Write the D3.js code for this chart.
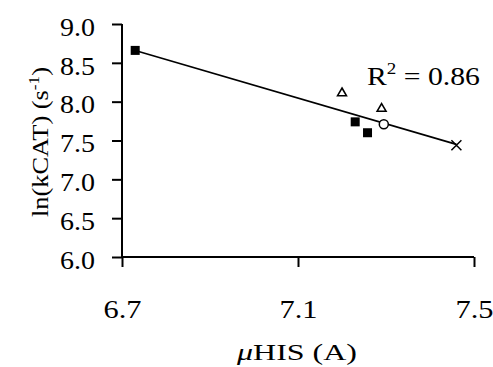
<!DOCTYPE html>
<html><head><meta charset="utf-8">
<script src="https://cdn.jsdelivr.net/npm/d3@7"></script>
<style>
body{margin:0;background:#fff;}
svg{display:block;}
text{font-family:"Liberation Serif","Times New Roman",serif;fill:#000;}
</style></head>
<body><svg id="c" width="493" height="367"></svg>
<script>
// data
const squares   = [[6.73, 8.66], [7.23, 7.74], [7.258, 7.60]];
const triangles = [[7.20, 8.11], [7.29, 7.91]];
const circles   = [[7.295, 7.71]];
const crosses   = [[7.46, 7.44]];
const trendX = [6.73, 7.46];
const trendY = [8.66, 7.45];
const xTicks = [6.7, 7.1, 7.5];
const yTicks = [6.0, 6.5, 7.0, 7.5, 8.0, 8.5, 9.0];
const r2Label = "0.86";

const svg = d3.select("#c");
const x = d3.scaleLinear().domain([6.7, 7.5]).range([122, 474]);
const y = d3.scaleLinear().domain([6.0, 9.0]).range([257, 24]);

const fs = 25;
// axes
const xAxis = svg.append("g").attr("transform", "translate(0,257)")
  .call(d3.axisBottom(x).tickValues(xTicks).tickFormat(d3.format(".1f")).tickSize(10).tickPadding(33));
const yAxis = svg.append("g").attr("transform", "translate(122,0)")
  .call(d3.axisLeft(y).tickValues(yTicks).tickFormat(d3.format(".1f")).tickSize(10).tickPadding(17));
[xAxis, yAxis].forEach(g => {
  g.attr("font-family", null).attr("font-size", null);
  g.select(".domain").attr("stroke", "#000").attr("stroke-width", 2);
  g.selectAll(".tick line").attr("stroke", "#000").attr("stroke-width", 2);
  g.selectAll(".tick text").attr("font-size", fs).attr("fill", "#000")
    .attr("lengthAdjust", "spacingAndGlyphs");
});
xAxis.selectAll(".tick text").attr("textLength", 38);
yAxis.selectAll(".tick text").attr("textLength", 35).attr("dy", "0.45em");
xAxis.select(".domain").attr("d", `M${x.range()[0]},0H${x.range()[1]}`);
yAxis.select(".domain").attr("d", `M0,${y.range()[0]}V${y.range()[1]}`);

// trend line
svg.append("line")
  .attr("x1", x(trendX[0])).attr("y1", y(trendY[0]))
  .attr("x2", x(trendX[1])).attr("y2", y(trendY[1]))
  .attr("stroke", "#000").attr("stroke-width", 1.6);

// markers
const s = 9;
svg.selectAll(".sq").data(squares).enter().append("rect")
  .attr("x", d => x(d[0]) - s/2).attr("y", d => y(d[1]) - s/2)
  .attr("width", s).attr("height", s).attr("fill", "#000");
const tri = d3.symbol().type(d3.symbolTriangle).size(34);
svg.selectAll(".tr").data(triangles).enter().append("path")
  .attr("d", tri).attr("transform", d => `translate(${x(d[0])},${y(d[1])})`)
  .attr("fill", "#fff").attr("stroke", "#000").attr("stroke-width", 1.6);
svg.selectAll(".ci").data(circles).enter().append("circle")
  .attr("cx", d => x(d[0])).attr("cy", d => y(d[1])).attr("r", 4.5)
  .attr("fill", "#fff").attr("stroke", "#000").attr("stroke-width", 1.5);
svg.selectAll(".cr").data(crosses).enter().append("path")
  .attr("d", d => { const cx = x(d[0]), cy = y(d[1]), h = 5;
    return `M${cx-h},${cy-h}L${cx+h},${cy+h}M${cx-h},${cy+h}L${cx+h},${cy-h}`; })
  .attr("stroke", "#000").attr("stroke-width", 1.5);

// R^2 label
const r2 = svg.append("text").attr("x", 367).attr("y", 85).attr("font-size", 25)
  .attr("textLength", 113).attr("lengthAdjust", "spacingAndGlyphs");
r2.append("tspan").text("R");
r2.append("tspan").attr("dy", -11).attr("font-size", 16).text("2");
r2.append("tspan").attr("dy", 11).text(" = " + r2Label);

// x title
const xt = svg.append("text").attr("x", 297).attr("y", 360).attr("text-anchor", "middle").attr("font-size", 23)
  .attr("textLength", 120).attr("lengthAdjust", "spacingAndGlyphs");
xt.append("tspan").attr("font-style", "italic").text("μ");
xt.append("tspan").text("HIS (A)");

// y title
const yt = svg.append("text").attr("transform", "translate(48,142) rotate(-90)")
  .attr("text-anchor", "middle").attr("font-size", 23)
  .attr("textLength", 150).attr("lengthAdjust", "spacingAndGlyphs");
yt.append("tspan").text("ln(kCAT) (s");
yt.append("tspan").attr("dy", -9).attr("font-size", 15).text("-1");
yt.append("tspan").attr("dy", 9).text(")");
</script></body></html>
